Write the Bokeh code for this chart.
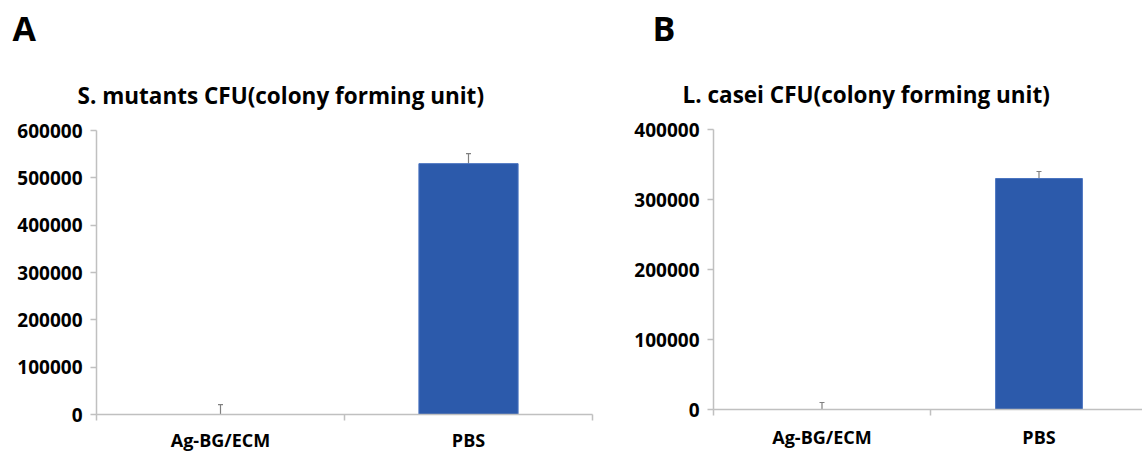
from bokeh.plotting import figure
from bokeh.layouts import row, column
from bokeh.models import (ColumnDataSource, Range1d, FixedTicker, SingleIntervalTicker,
                          BasicTickFormatter, Whisker, TeeHead, Title)
from bokeh.embed import file_html
from bokeh.resources import INLINE

# ---- data ----
categories = ["Ag-BG/ECM", "PBS"]
smutans_cfu = [0, 530000]
smutans_err = [21000, 21000]
lcasei_cfu = [0, 330000]
lcasei_err = [10000, 10000]
panel_letters = ["A", "B"]
titles = ["S. mutants CFU(colony forming unit)", "L. casei CFU(colony forming unit)"]
y_max = [600000, 400000]

FONT = "Open Sans"
AXIS_GRAY = "#c0c0c0"
BAR_FILL = "#2c5aab"
BAR_LINE = "#4a74c0"
ERR_COLOR = "#808080"
HEADER_H = 57


def make_header(letter, width, letter_offset):
    h = figure(title=None, width=width, height=HEADER_H, output_backend="svg",
               toolbar_location=None, x_axis_type=None, y_axis_type=None,
               min_border_left=0, min_border_right=0, min_border_top=0, min_border_bottom=0)
    h.outline_line_color = None
    h.grid.grid_line_color = None
    h.add_layout(Title(text=letter, text_font=FONT, text_font_style="bold",
                       text_font_size="34px", text_color="black",
                       align="left", offset=letter_offset, standoff=4), "above")
    return h


def make_panel(values, errs, title, ymax, width, height, x_end,
               border_left, border_right, border_top, border_bottom,
               title_offset, title_standoff, x_label_standoff):
    xs = [i + 0.5 for i in range(len(categories))]
    src = ColumnDataSource(dict(
        x=xs, top=values,
        upper=[v + e for v, e in zip(values, errs)],
        lower=values,
    ))
    p = figure(title=None, width=width, height=height, output_backend="svg",
               toolbar_location=None,
               x_range=Range1d(0, x_end), y_range=Range1d(0, ymax),
               min_border_left=border_left, min_border_right=border_right,
               min_border_top=border_top, min_border_bottom=border_bottom)
    p.outline_line_color = None
    p.grid.grid_line_color = None
    p.background_fill_color = "white"
    p.border_fill_color = "white"

    p.vbar(x="x", top="top", width=0.4, bottom=0, source=src,
           fill_color=BAR_FILL, line_color=BAR_LINE, line_width=1)

    wh = Whisker(source=src, base="x", upper="upper", lower="lower", dimension="height",
                 line_color=ERR_COLOR, line_width=1.2,
                 upper_head=TeeHead(size=5, line_color=ERR_COLOR, line_width=1.2),
                 lower_head=None)
    p.add_layout(wh)

    # x axis: labels at category centres, ticks at category boundaries
    xa = p.xaxis[0]
    xa.ticker = FixedTicker(ticks=xs, minor_ticks=[i for i in range(len(categories) + 1)])
    xa.major_label_overrides = {x: c for x, c in zip(xs, categories)}
    xa.major_tick_line_color = None
    xa.major_tick_out = 0
    xa.major_tick_in = 0
    xa.minor_tick_line_color = AXIS_GRAY
    xa.minor_tick_out = 6
    xa.minor_tick_in = 0
    xa.minor_tick_line_width = 1.5
    xa.axis_line_color = AXIS_GRAY
    xa.axis_line_width = 1.5
    xa.axis_label_standoff = 0
    xa.major_label_standoff = x_label_standoff
    xa.major_label_text_font = FONT
    xa.major_label_text_font_style = "bold"
    xa.major_label_text_font_size = "18px"
    xa.major_label_text_color = "black"

    ya = p.yaxis[0]
    ya.ticker = SingleIntervalTicker(interval=100000, num_minor_ticks=0)
    ya.formatter = BasicTickFormatter(use_scientific=False)
    ya.axis_line_color = AXIS_GRAY
    ya.axis_line_width = 1.5
    ya.major_tick_line_color = AXIS_GRAY
    ya.major_tick_line_width = 1.5
    ya.major_tick_out = 6
    ya.major_tick_in = 0
    ya.minor_tick_line_color = None
    ya.major_label_standoff = 8
    ya.major_label_text_font = FONT
    ya.major_label_text_font_style = "bold"
    ya.major_label_text_font_size = "19px"
    ya.major_label_text_color = "black"

    p.add_layout(Title(text=title, text_font=FONT, text_font_style="bold",
                       text_font_size="22.5px", text_color="black",
                       align="left", offset=title_offset, standoff=title_standoff), "above")
    return p


PANEL_H = 457 - HEADER_H

# header frames line up with the panel frames below them (left edges 96 and 713)
ha = make_header(panel_letters[0], 600, -84)
hb = make_header(panel_letters[1], 542, -61)

pa = make_panel(smutans_cfu, smutans_err, titles[0], y_max[0],
                width=600, height=PANEL_H, x_end=2.0,
                border_left=96, border_right=8, border_top=73, border_bottom=43,
                title_offset=-19, title_standoff=40, x_label_standoff=7)
pb = make_panel(lcasei_cfu, lcasei_err, titles[1], y_max[1],
                width=542, height=PANEL_H, x_end=1.977,
                border_left=113, border_right=0, border_top=72, border_bottom=48,
                title_offset=-31, title_standoff=39, x_label_standoff=9)

layout = row(column(ha, pa, spacing=0), column(hb, pb, spacing=0), spacing=0)
open("out.html", "w").write(file_html(layout, INLINE))
